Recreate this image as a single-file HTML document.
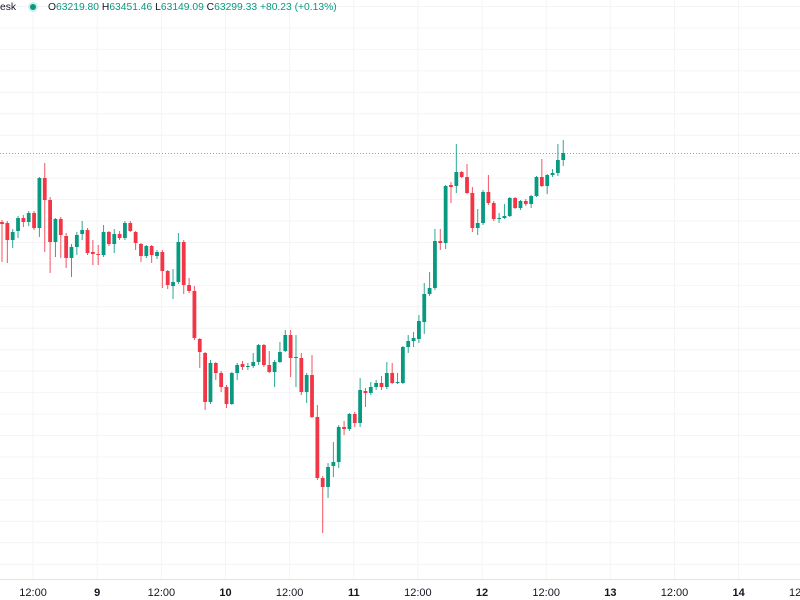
<!DOCTYPE html>
<html><head><meta charset="utf-8">
<style>
html,body{margin:0;padding:0;background:#fff;}
body{width:800px;height:600px;overflow:hidden;font-family:"Liberation Sans",sans-serif;}
#chart{position:absolute;left:0;top:0;}
#hdr{position:absolute;left:0;top:1px;font-size:10.3px;color:#131722;white-space:nowrap;line-height:14px;}
#hdr .v{color:#089981;}
#dot{display:inline-block;width:6px;height:6px;border-radius:50%;background:#089981;box-shadow:0 0 0 2px #cdeee8;margin:0 12px 0 14px;vertical-align:0px;}
</style></head>
<body>
<svg id="chart" width="800" height="600"></svg>
<div id="hdr"><span>esk</span><span id="dot"></span>O<span class="v">63219.80</span> H<span class="v">63451.46</span> L<span class="v">63149.09</span> C<span class="v">63299.33</span> <span class="v">+80.23 (+0.13%)</span></div>
<script>
const opens = [62780,62770,62600,62690,62820,62780,62870,62720,63220,63000,62580,62810,62640,62420,62530,62660,62700,62480,62460,62450,62680,62560,62660,62620,62770,62680,62560,62440,62540,62440,62480,62290,62140,62180,62580,62150,62090,61610,61470,60980,61370,61270,61130,60960,61270,61360,61330,61340,61380,61550,61350,61280,61380,61490,61650,61420,61420,61080,61250,60830,60220,60130,60340,60380,60730,60710,60860,60770,61090,61070,61130,61170,61130,61270,61170,61170,61530,61590,61610,61780,62060,62120,62590,62570,63150,63140,63280,63230,63070,62720,62770,63080,62970,62810,62820,62840,63020,62920,62990,62960,63040,63230,63140,63250,63270,63400];
const highs = [62800,62790,62710,62840,62850,62890,62890,63230,63370,63030,62820,62830,62670,62560,62680,62790,62720,62600,62550,62750,62690,62710,62690,62790,62790,62690,62570,62550,62550,62500,62500,62300,62310,62670,62600,62220,62140,61620,61480,61400,61380,61290,61150,61280,61370,61390,61370,61470,61560,61560,61490,61400,61580,61700,61700,61650,61470,61270,61450,60950,60240,60370,60580,60750,60790,60870,60880,61220,61120,61180,61200,61240,61380,61370,61270,61540,61650,61680,61850,62170,62280,62710,62710,63150,63180,63560,63290,63360,63130,62910,63100,63250,62990,62870,62960,63030,63030,63000,63010,63050,63240,63410,63260,63310,63560,63600];
const lows = [62380,62370,62520,62620,62730,62740,62700,62630,62480,62270,62430,62420,62320,62230,62450,62600,62450,62350,62350,62430,62540,62470,62600,62600,62680,62500,62380,62420,62370,62410,62120,62110,62010,62160,62060,62070,61600,61320,60900,60960,61200,61080,60920,60950,61200,61300,61300,61320,61350,61330,61270,61130,61370,61480,61230,61130,61050,60970,60820,60200,59670,60020,60230,60320,60650,60690,60730,60730,60930,61050,61100,61100,61110,61160,61160,61160,61470,61530,61570,61660,62040,62100,62500,62510,62970,63070,63220,63060,62680,62650,62750,62950,62790,62770,62810,62830,62910,62900,62940,62920,63030,63130,63060,63230,63240,63340];
const closes = [62760,62600,62680,62820,62780,62870,62720,63220,63000,62580,62810,62650,62420,62530,62650,62700,62470,62460,62450,62680,62560,62660,62620,62770,62690,62570,62440,62540,62450,62480,62290,62150,62180,62580,62150,62090,61620,61480,60980,61370,61270,61130,60960,61270,61350,61330,61340,61380,61550,61350,61280,61380,61480,61650,61420,61430,61080,61250,60830,60220,60130,60330,60380,60730,60710,60860,60770,61100,61070,61130,61170,61130,61270,61170,61180,61530,61590,61620,61790,62060,62120,62590,62570,63140,63130,63280,63230,63070,62720,62770,63080,62970,62810,62820,62840,63020,62920,62990,62960,63040,63230,63140,63250,63270,63400,63470];
const xTickLabels = ["12:00","9","12:00","10","12:00","11","12:00","12","12:00","13","12:00","14","12:00"];
const lastPrice = 63470;

const NS="http://www.w3.org/2000/svg";
const svg=document.getElementById('chart');
const X0=2, STEP=5.345;
function xScale(i){return X0+i*STEP;}
function yScale(p){return (65000-p)/10;}
function mk(tag,attrs){const e=document.createElementNS(NS,tag);for(const k in attrs)e.setAttribute(k,attrs[k]);svg.appendChild(e);return e;}

for(let k=0;k<27;k++){
  const y=6.5+k*21.45; if(y>578)break;
  const g=mk('line',{x1:0,x2:800,y1:y,y2:y,stroke:'#f3f4f6','stroke-width':1});
  
  
}
xTickLabels.forEach((t,j)=>{
  const x=xScale(6+j*12)-1;
  const g=mk('line',{x1:x,x2:x,y1:0,y2:579,stroke:'#f3f4f6','stroke-width':1});
  
  
  const tx=mk('text',{x:x,y:596,'text-anchor':'middle','font-size':'11','font-family':'Liberation Sans, sans-serif',fill:'#131722','font-weight':t.includes(':')?'normal':'bold'});
  tx.textContent=t;
  
  
});
const ax=mk('line',{x1:0,x2:800,y1:579.5,y2:579.5,stroke:'#e0e3eb','stroke-width':1});



const pl=mk('line',{x1:0,x2:800,y1:yScale(lastPrice)+0.5,y2:yScale(lastPrice)+0.5,stroke:'#5cc0ad','stroke-width':1,'stroke-dasharray':'1 2'});



for(let i=0;i<opens.length;i++){
  const up=closes[i]>=opens[i];
  const col=up?'#089981':'#f23645';
  const x=xScale(i);
  const w=mk('line',{x1:x,x2:x,y1:yScale(highs[i]),y2:yScale(lows[i]),stroke:col,'stroke-width':1,opacity:0.85});
  
  
  const top=yScale(Math.max(opens[i],closes[i]));
  const bot=yScale(Math.min(opens[i],closes[i]));
  const b=mk('rect',{x:x-1.9,y:top,width:3.8,height:Math.max(1,bot-top),fill:col});
  
  
}
</script>
</body></html>
